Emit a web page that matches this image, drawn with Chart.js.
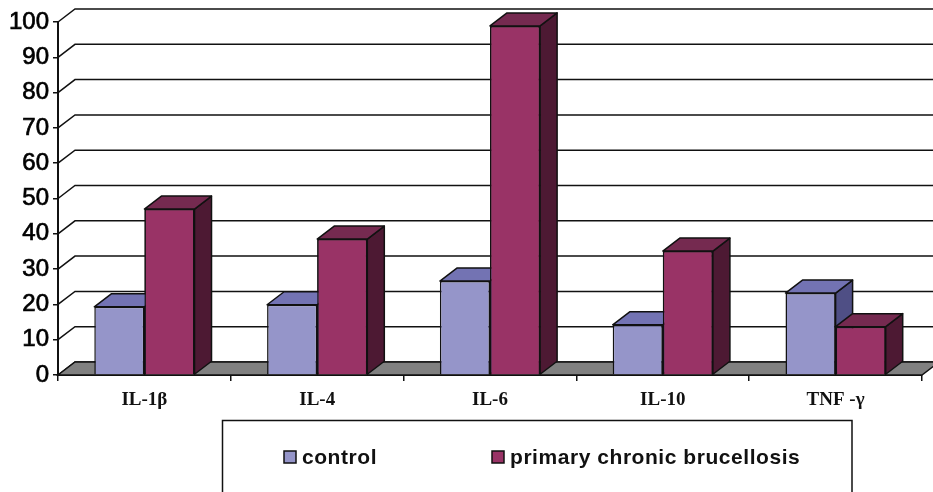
<!DOCTYPE html>
<html>
<head>
<meta charset="utf-8">
<style>
  html, body { margin:0; padding:0; background:#fff; }
  canvas { display:block; }
</style>
<script src="https://cdn.jsdelivr.net/npm/chart.js@4"></script>
</head>
<body>
<canvas id="chart" width="933" height="492"></canvas>
<script>
const categories = ["IL-1β", "IL-4", "IL-6", "IL-10", "TNF -γ"];
const controlValues = [19.3, 19.9, 26.6, 14.2, 23.2];
const chronicValues = [47, 38.5, 98.9, 35.1, 13.7];
const seriesNames = ["control", "primary chronic brucellosis"];

const INK = "#111";
const DX = 17, DY = 13; // fake 3d depth

// top and side faces of one dataset's bars
function drawFaces(chart, index) {
  const ctx = chart.ctx;
  const ds = chart.data.datasets[index];
  ctx.save();
  ctx.lineWidth = 1.5;
  ctx.strokeStyle = INK;
  ctx.lineJoin = "round";
  chart.getDatasetMeta(index).data.forEach(bar => {
    const l = bar.x - bar.width / 2, r = bar.x + bar.width / 2;
    const t = bar.y, b = bar.base;
    ctx.fillStyle = ds.sideColor;
    ctx.beginPath();
    ctx.moveTo(r, t); ctx.lineTo(r + DX, t - DY); ctx.lineTo(r + DX, b - DY); ctx.lineTo(r, b);
    ctx.closePath(); ctx.fill(); ctx.stroke();
    ctx.fillStyle = ds.topColor;
    ctx.beginPath();
    ctx.moveTo(l, t); ctx.lineTo(l + DX, t - DY); ctx.lineTo(r + DX, t - DY); ctx.lineTo(r, t);
    ctx.closePath(); ctx.fill(); ctx.stroke();
  });
  ctx.restore();
}

// chart.js paints the first dataset last, but here the right hand bar has to sit
// on top of the left one, so the second dataset gets painted again afterwards
const faces = {
  id: "faces",
  beforeDatasetDraw(chart, args) {
    if (args.index === 0) drawFaces(chart, 0);
  },
  afterDatasetsDraw(chart) {
    drawFaces(chart, 1);
    chart.getDatasetMeta(1).data.forEach(bar => bar.draw(chart.ctx));
  }
};

// back wall gridlines and the grey floor
const walls = {
  id: "walls",
  beforeDatasetsDraw(chart) {
    const ctx = chart.ctx, y = chart.scales.y, a = chart.chartArea;
    ctx.save();
    ctx.strokeStyle = INK;
    ctx.lineWidth = 1.5;
    y.ticks.forEach(t => {
      const py = y.getPixelForValue(t.value);
      ctx.beginPath();
      ctx.moveTo(a.left, py);
      ctx.lineTo(a.left + DX, py - DY);
      ctx.lineTo(a.right + DX, py - DY);
      ctx.stroke();
    });
    const y0 = y.getPixelForValue(0);
    ctx.fillStyle = "#808080";
    ctx.beginPath();
    ctx.moveTo(a.left, y0);
    ctx.lineTo(a.left + DX, y0 - DY);
    ctx.lineTo(a.right + DX, y0 - DY);
    ctx.lineTo(a.right, y0);
    ctx.closePath();
    ctx.fill();
    ctx.stroke();
    ctx.restore();
  }
};

// boxed legend, cut off by the bottom of the picture
const boxLegend = {
  id: "boxLegend",
  afterDraw(chart) {
    const ctx = chart.ctx;
    const items = chart.data.datasets;
    const xs = [284, 492];
    ctx.save();
    ctx.strokeStyle = INK;
    ctx.lineWidth = 1.5;
    ctx.beginPath();
    ctx.moveTo(222.5, 492); ctx.lineTo(222.5, 420.5); ctx.lineTo(852, 420.5); ctx.lineTo(852, 492);
    ctx.stroke();
    ctx.font = "bold 21px 'Liberation Sans'";
    ctx.letterSpacing = "0.55px";
    ctx.textBaseline = "middle";
    items.forEach((d, i) => {
      ctx.fillStyle = d.backgroundColor;
      ctx.fillRect(xs[i], 451, 12, 12);
      ctx.strokeRect(xs[i], 451, 12, 12);
      ctx.fillStyle = INK;
      ctx.fillText(d.label, xs[i] + 18, 458);
    });
    ctx.restore();
  }
};

new Chart(document.getElementById("chart"), {
  type: "bar",
  data: {
    labels: categories,
    datasets: [
      { label: seriesNames[0], data: controlValues, backgroundColor: "#9595C9", topColor: "#7373B3", sideColor: "#4F4F85", borderColor: INK, borderWidth: 1.5 },
      { label: seriesNames[1], data: chronicValues, backgroundColor: "#993366", topColor: "#752A50", sideColor: "#4D1933", borderColor: INK, borderWidth: 1.5 }
    ]
  },
  options: {
    responsive: false,
    animation: false,
    layout: { padding: { top: 22, right: 11, left: 0, bottom: 0 } },
    datasets: { bar: { barPercentage: 1, categoryPercentage: 0.58 } },
    plugins: { legend: { display: false }, tooltip: { enabled: false } },
    scales: {
      x: {
        afterFit(s) { s.height = 117; },
        grid: { drawOnChartArea: false, color: INK, tickLength: 6, lineWidth: 1.5 },
        border: { color: INK, width: 2 },
        ticks: { color: INK, padding: 8, maxRotation: 0, font: { family: "Liberation Serif", weight: "bold", size: 19 } }
      },
      y: {
        min: 0,
        max: 100,
        afterFit(s) { s.width = 58; },
        grid: { drawOnChartArea: false, color: INK, tickLength: 5, lineWidth: 1.5 },
        border: { color: INK, width: 2 },
        ticks: { stepSize: 10, color: "#000", textStrokeColor: "#000", textStrokeWidth: 0.7, padding: 4, font: { family: "Liberation Sans", size: 24 } }
      }
    }
  },
  plugins: [walls, faces, boxLegend]
});
</script>
</body>
</html>
